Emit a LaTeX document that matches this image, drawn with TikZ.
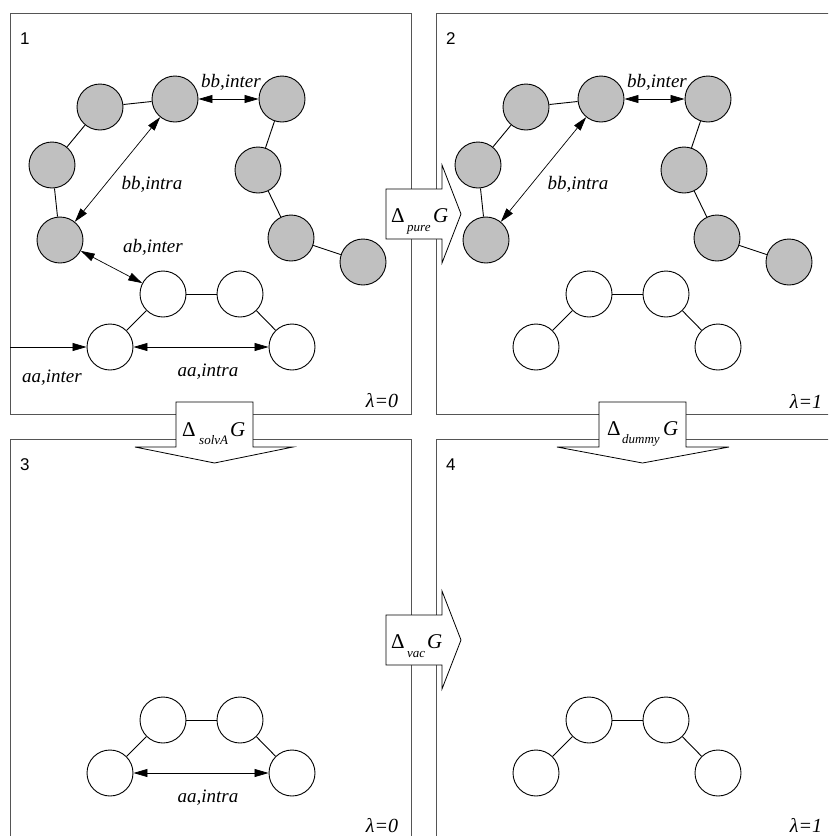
\documentclass[tikz,border=0pt]{standalone}
\usepackage{fontspec}
\setmainfont{Liberation Serif}
\newfontfamily\numfont{Liberation Sans}
\usetikzlibrary{arrows.meta}
\definecolor{atomgray}{HTML}{C0C0C0}
\definecolor{panelgray}{HTML}{555555}
\newcommand\graychain[1]{%
  \node[gatom] (#1g1) at (100,107) {};
  \node[gatom] (#1g2) at (175,99) {};
  \node[gatom] (#1g3) at (282,99) {};
  \node[gatom] (#1g4) at (52,165) {};
  \node[gatom] (#1g5) at (258,170) {};
  \node[gatom] (#1g6) at (60,240) {};
  \node[gatom] (#1g7) at (291,238) {};
  \node[gatom] (#1g8) at (363,262) {};
  \draw[bond] (#1g1) -- (#1g2);
  \draw[bond] (#1g1) -- (#1g4);
  \draw[bond] (#1g4) -- (#1g6);
  \draw[bond] (#1g3) -- (#1g5);
  \draw[bond] (#1g5) -- (#1g7);
  \draw[bond] (#1g7) -- (#1g8);
  \draw[inter] (#1g2) -- (#1g3);
  \draw[inter] (#1g2) -- (#1g6);
  \node[lbl] (#1lbi) at (231,87) {bb,inter};
  \node[lbl] (#1lbr) at (152,189) {bb,intra};
}
\newcommand\whitechain[1]{%
  \node[watom] (#1w1) at (163,294) {};
  \node[watom] (#1w2) at (240,294) {};
  \node[watom] (#1w3) at (110,347) {};
  \node[watom] (#1w4) at (292,347) {};
  \draw[bond] (#1w1) -- (#1w2);
  \draw[bond] (#1w1) -- (#1w3);
  \draw[bond] (#1w2) -- (#1w4);
}
\begin{document}
\begin{tikzpicture}[x=1pt,y=-1pt,
  gatom/.style={circle, draw=black, fill=atomgray, minimum size=46pt, inner sep=0pt, line width=0.9pt},
  watom/.style={circle, draw=black, fill=white, minimum size=46pt, inner sep=0pt, line width=0.9pt},
  bond/.style={line width=0.9pt},
  inter/.style={line width=0.7pt, {Triangle[length=14pt,width=8pt]}-{Triangle[length=14pt,width=8pt]}},
  oneway/.style={line width=0.7pt, -{Triangle[length=14pt,width=8pt]}},
  panel/.style={draw=panelgray, line width=1pt},
  barrow/.style={draw=black, fill=white, line width=0.8pt},
  lbl/.style={font=\fontsize{19}{22}\selectfont\itshape, anchor=base, inner sep=0pt},
  lam/.style={font=\fontsize{20}{22}\selectfont\itshape, anchor=base, inner sep=0pt},
  num/.style={font=\numfont\fontsize{17}{20}\selectfont, anchor=base west, inner sep=0pt},
  big/.style={font=\fontsize{21}{24}\selectfont, anchor=base west, inner sep=0pt},
  bigit/.style={font=\fontsize{21}{24}\selectfont\itshape, anchor=base west, inner sep=0pt},
  sub/.style={font=\fontsize{13}{15}\selectfont\itshape, anchor=base west, inner sep=0pt},
]
\useasboundingbox (0,0) rectangle (828,836);
\clip (0,0) rectangle (828,836);
% panels
\draw[panel] (10,13) rectangle (411,414);
\draw[panel] (436,13) rectangle (840,414);
\draw[panel] (10,439) rectangle (411,845);
\draw[panel] (436,439) rectangle (840,845);
% block arrows
\draw[barrow] (386,189) -- (442,189) -- (442,165) -- (461,214) -- (442,263) -- (442,239) -- (386,239) -- cycle;
\draw[barrow] (386,615) -- (442,615) -- (442,591) -- (461,640) -- (442,689) -- (442,665) -- (386,665) -- cycle;
\draw[barrow] (176,402) -- (253,402) -- (253,447) -- (293,447) -- (214.5,463) -- (135,447) -- (176,447) -- cycle;
\draw[barrow] (599,402) -- (686,402) -- (686,447) -- (729,447) -- (642.5,463) -- (557,447) -- (599,447) -- cycle;
\node[big] (dp) at (391,222) {Δ};
\node[sub] (sp) at (407,231) {pure};
\node[bigit] (gp) at (433,222) {G};
\node[big] (dv) at (391,648) {Δ};
\node[sub] (sv) at (407,657) {vac};
\node[bigit] (gv) at (427,648) {G};
\node[big] (ds) at (182,436) {Δ};
\node[sub] (ss) at (199,444) {solvA};
\node[bigit] (gs) at (230,436) {G};
\node[big] (dd) at (607,435) {Δ};
\node[sub] (sd) at (622,443) {dummy};
\node[bigit] (gd) at (663,435) {G};
% panel 1
\graychain{a}
\whitechain{a}
\draw[inter] (ag6) -- (aw1);
\draw[inter] (aw3) -- (aw4);
\coordinate (aleft) at (10,347);
\draw[oneway] (aleft) -- (aw3);
\node[lbl] (alab) at (153,252) {ab,inter};
\node[lbl] (aai) at (52,382) {aa,inter};
\node[lbl] (aar) at (208,376) {aa,intra};
\node[lam] (alam) at (382,407) {λ=0};
\node[num] (an) at (20,44) {1};
% panel 2
\begin{scope}[shift={(426,0)}]
\graychain{b}
\whitechain{b}
\node[lam] (blam) at (380,408) {λ=1};
\node[num] (bn) at (20,44) {2};
\end{scope}
% panel 3
\begin{scope}[shift={(0,426)}]
\whitechain{c}
\draw[inter] (cw3) -- (cw4);
\node[lbl] (car) at (208,376) {aa,intra};
\node[lam] (clam) at (382,406) {λ=0};
\node[num] (cn) at (20,44) {3};
\end{scope}
% panel 4
\begin{scope}[shift={(426,426)}]
\whitechain{d}
\node[lam] (dlam) at (380,406) {λ=1};
\node[num] (dn) at (20,44) {4};
\end{scope}
\end{tikzpicture}
\end{document}
